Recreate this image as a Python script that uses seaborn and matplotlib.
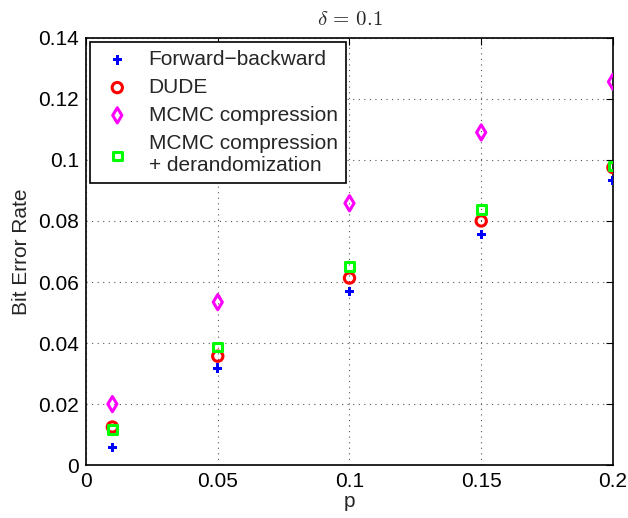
import matplotlib
matplotlib.use("Agg")
import matplotlib.pyplot as plt
import seaborn as sns
import pandas as pd

sns.set_style("white")
plt.rcParams["font.family"] = ["Liberation Sans", "DejaVu Sans"]
plt.rcParams["mathtext.fontset"] = "cm"

# data
p = [0.01, 0.05, 0.10, 0.15, 0.20]
fb = [0.0057, 0.0318, 0.0570, 0.0756, 0.0932]
dude = [0.0125, 0.0357, 0.0613, 0.0800, 0.0975]
mcmc = [0.0200, 0.0534, 0.0858, 0.1090, 0.1256]
mcmc_derand = [0.0118, 0.0387, 0.0652, 0.0837, 0.0980]

labels = ["Forward\u2212backward", "DUDE", "MCMC compression",
          "MCMC compression\n+ derandomization"]
series = [fb, dude, mcmc, mcmc_derand]
colors = ["#0000ff", "#ff0000", "#ff00ff", "#00ff00"]
markers = ["P", "o", "d", "s"]
sizes = [45, 55, 60, 40]

fig = plt.figure(figsize=(6.28, 5.18), dpi=100)
ax = fig.add_axes([0.137, 0.102, 0.839, 0.825])

for lab, vals, c, m, s in zip(labels, series, colors, markers, sizes):
    df = pd.DataFrame({"p": p, "ber": vals})
    if m == "P":
        sns.scatterplot(data=df, x="p", y="ber", marker=m, s=s, color=c,
                        edgecolor="none", ax=ax, label=lab, zorder=3)
    else:
        sns.scatterplot(data=df, x="p", y="ber", marker=m, s=s,
                        facecolors="none", edgecolor=c, linewidth=2.2,
                        ax=ax, label=lab, zorder=3)

ax.set_xlim(0, 0.2)
ax.set_ylim(0, 0.14)
ax.set_xticks([0, 0.05, 0.1, 0.15, 0.2])
ax.set_xticklabels(["0", "0.05", "0.1", "0.15", "0.2"])
ax.set_yticks([0, 0.02, 0.04, 0.06, 0.08, 0.1, 0.12, 0.14])
ax.set_yticklabels(["0", "0.02", "0.04", "0.06", "0.08", "0.1", "0.12", "0.14"])
ax.tick_params(direction="in", length=5, width=0.8, top=True, right=True,
               labelsize=15, pad=5, colors="black")
ax.grid(True, linestyle=(0, (1, 4)), color="#555555", linewidth=0.8)
for sp in ax.spines.values():
    sp.set_color("black")
    sp.set_linewidth(1.2)

ax.set_xlabel("p", fontsize=15, labelpad=1)
ax.set_ylabel("Bit Error Rate", fontsize=15, labelpad=5)
ax.set_title(r"$\delta\,=\,0.1$", fontsize=15, pad=9)

leg = ax.legend(loc="upper left", fontsize=15, frameon=True, fancybox=False,
                edgecolor="black", framealpha=1, borderaxespad=0.2,
                handletextpad=0.6, labelspacing=0.42, borderpad=0.4,
                handlelength=1.8)
leg.get_frame().set_linewidth(1.2)

fig.savefig("out.png", dpi=100)
